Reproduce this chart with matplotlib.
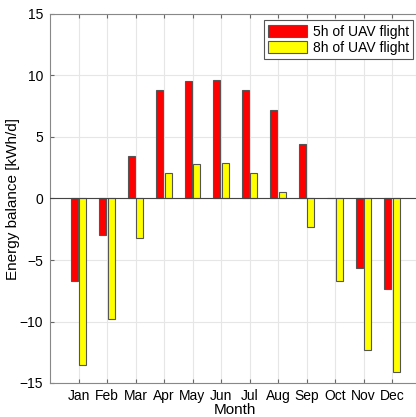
import numpy as np
import matplotlib.pyplot as plt

months = ['Jan', 'Feb', 'Mar', 'Apr', 'May', 'Jun', 'Jul', 'Aug', 'Sep', 'Oct', 'Nov', 'Dec']
flight_5h = [-6.7, -2.95, 3.48, 8.82, 9.58, 9.63, 8.85, 7.2, 4.43, 0.08, -5.62, -7.36]
flight_8h = [-13.5, -9.8, -3.24, 2.05, 2.78, 2.86, 2.07, 0.55, -2.34, -6.68, -12.3, -14.1]

plt.rcParams['font.family'] = ['Liberation Sans', 'DejaVu Sans']

fig = plt.figure(figsize=(4.16, 4.17), dpi=100)
ax = fig.add_axes([50 / 416, 34 / 417, 370.5 / 416, 369 / 417])

x = np.arange(1, len(months) + 1)
w = 0.235
ax.bar(x - 0.15, flight_5h, w, color='#ff0000', edgecolor='#555555', linewidth=0.8,
       label='5h of UAV flight', zorder=3)
ax.bar(x + 0.15, flight_8h, w, color='#ffff00', edgecolor='#555555', linewidth=0.8,
       label='8h of UAV flight', zorder=3)
ax.axhline(0, color='#444444', linewidth=0.8, zorder=4)

ax.set_xlim(0, 13)
ax.set_ylim(-15, 15)
ax.set_xticks(x)
ax.set_xticklabels(months)
ax.set_yticks([-15, -10, -5, 0, 5, 10, 15])
ax.tick_params(direction='in', top=True, right=True, labelsize=10, length=3,
               color='#666666')
ax.tick_params(axis='x', pad=4)
ax.tick_params(axis='y', pad=5)
ax.grid(True, color='#e6e6e6', linewidth=0.8, zorder=0)
for s in ax.spines.values():
    s.set_color('#888888')

ax.set_xlabel('Month', fontsize=11, labelpad=0)
ax.set_ylabel('Energy balance [kWh/d]', fontsize=11, labelpad=0)

leg = ax.legend(loc='upper right', bbox_to_anchor=(363 / 370.5, 1 - 6.5 / 369),
                fontsize=10, fancybox=False, framealpha=1, edgecolor='#555555',
                borderaxespad=0, handlelength=2.8, handleheight=0.9, borderpad=0.3,
                labelspacing=0.15, handletextpad=0.4)
leg.get_frame().set_linewidth(0.8)

fig.savefig('out.png', dpi=100)
